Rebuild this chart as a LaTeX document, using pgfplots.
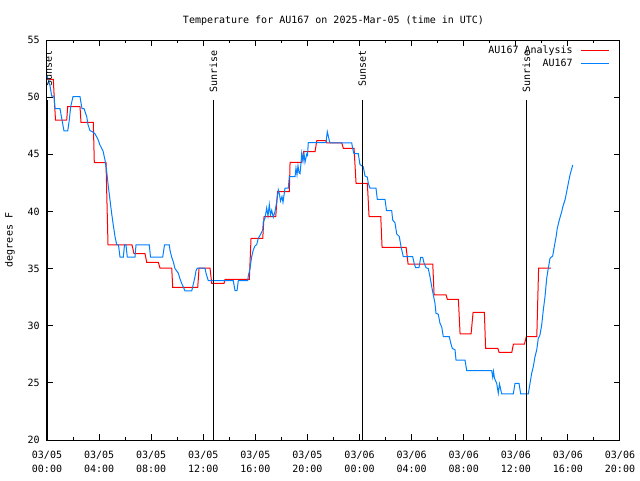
\documentclass[border=0pt]{standalone}
\usepackage{fontspec}
\setmainfont{DejaVu Sans Mono}
\usepackage{pgfplots}
\pgfplotsset{compat=1.18}
\definecolor{gpred}{RGB}{255,0,0}
\definecolor{gpblue}{RGB}{0,128,255}
\newcommand{\gpfont}{\fontsize{7.5}{10.5}\selectfont}
\begin{document}
\begin{tikzpicture}
\path[use as bounding box] (-35.25pt,-30pt) rectangle (444.75pt,330pt);
\begin{axis}[
  at={(0pt,0pt)}, anchor=south west,
  width=429.75pt, height=300pt, scale only axis,
  xmin=0, xmax=44, ymin=20, ymax=55,
  xtick={0,4,8,12,16,20,24,28,32,36,40,44},
  xticklabels={{03/05\\00:00},{03/05\\04:00},{03/05\\08:00},{03/05\\12:00},{03/05\\16:00},{03/05\\20:00},{03/06\\00:00},{03/06\\04:00},{03/06\\08:00},{03/06\\12:00},{03/06\\16:00},{03/06\\20:00}},
  minor x tick num=1,
  ytick={20,25,30,35,40,45,50,55},
  tick pos=both, tick align=inside,
  major tick length=4.5pt, minor tick length=2.25pt,
  every tick/.style={black, line width=0.75pt},
  axis line style={line width=0.75pt},
  /pgf/number format/assume math mode=true,
  tick label style={font=\gpfont},
  xticklabel style={align=center, inner sep=0pt, yshift=-7.75pt},
  yticklabel style={inner sep=0pt, xshift=-5.25pt},
  title={Temperature for AU167 on 2025-Mar-05 (time in UTC)},
  title style={font=\gpfont, at={(axis description cs:0.5,1)}, anchor=base, yshift=6.75pt, inner sep=0pt},
  ylabel={degrees F},
  ylabel style={font=\gpfont, at={(axis description cs:0,0.5)}, anchor=center, yshift=27.75pt, inner sep=0pt},
  legend plot pos=right,
  legend cell align=right,
  legend image code/.code={\draw[#1] (0pt,0pt) -- (21.2pt,0pt);},
  legend style={at={(axis description cs:1,1)}, anchor=north east, xshift=-7.5pt, yshift=-4.25pt,
    draw=none, fill=none, inner sep=0pt, font=\gpfont, column sep=5.8pt, row sep=2.75pt,
    nodes={inner sep=0pt, text height=5.5pt, text depth=1.5pt}},
]
\addplot[gpred, line width=0.75pt] coordinates {
(0,51.56)(0.484,51.56)(0.576,49.5)(0.653,48.0)(1.513,48.0)(1.590,49.16)(2.535,49.16)(2.611,47.8)(3.556,47.8)(3.633,44.26)(4.531,44.26)(4.685,37.07)(6.528,37.07)(6.682,36.3)(7.527,36.3)(7.657,35.55)(8.548,35.55)(8.679,35.03)(9.578,35.03)(9.654,33.36)(11.575,33.36)(11.674,35.03)(12.519,35.03)(12.650,33.7)(13.594,33.7)(13.671,34.06)(15.538,34.06)(15.668,37.65)(16.567,37.65)(16.667,39.54)(17.565,39.54)(17.704,41.73)(18.610,41.73)(18.664,44.3)(19.562,44.3)(19.700,45.23)(20.584,45.23)(20.715,46.19)(21.429,46.19)(21.482,46.0)(22.634,46.0)(22.757,45.52)(23.579,45.52)(23.733,42.46)(24.601,42.46)(24.731,39.54)(25.630,39.54)(25.730,36.86)(27.573,36.86)(27.727,35.4)(29.624,35.4)(29.724,32.69)(30.645,32.69)(30.745,32.31)(31.590,32.31)(31.720,29.28)(32.565,29.28)(32.719,31.17)(33.587,31.17)(33.679,28.02)(34.616,28.02)(34.716,27.67)(35.691,27.67)(35.814,28.38)(36.659,28.38)(36.805,29.04)(37.611,29.04)(37.750,35.03)(38.687,35.03)
};
\addlegendentry{AU167 Analysis}
\addplot[gpblue, line width=0.75pt] coordinates {
(0,51.9)(0.230,51.0)(0.361,50.1)(0.538,50.1)(0.614,49.0)(0.998,49.0)(1.152,48.0)(1.305,47.04)(1.590,47.04)(1.712,48.0)(1.820,49.16)(1.997,50.05)(2.534,50.05)(2.611,49.5)(2.688,49.0)(2.841,49.0)(3.049,48.3)(3.148,47.6)(3.302,47.07)(3.456,47.0)(3.686,46.8)(3.916,46.3)(4.070,45.8)(4.300,45.3)(4.454,44.5)(4.584,43.5)(4.707,42.2)(4.838,41.0)(4.968,39.8)(5.091,38.8)(5.222,37.8)(5.352,37.1)(5.398,37.07)(5.490,37.07)(5.606,36.0)(5.859,36.0)(5.951,37.07)(6.066,37.07)(6.166,36.0)(6.757,36.0)(6.834,37.07)(7.856,37.07)(7.948,36.0)(8.884,36.0)(9.023,37.07)(9.391,37.07)(9.445,36.6)(9.575,36.0)(9.698,35.6)(9.829,35.0)(10.082,34.6)(10.213,34.1)(10.343,33.7)(10.466,33.4)(10.597,33.04)(11.111,33.04)(11.188,33.4)(11.288,33.9)(11.365,34.3)(11.442,34.8)(11.541,35.03)(12.133,35.03)(12.209,34.6)(12.386,33.94)(14.306,33.94)(14.436,33.07)(14.590,33.07)(14.690,33.94)(15.412,33.94)(15.458,34.35)(15.588,35.0)(15.719,36.04)(15.842,36.63)(15.972,36.98)(16.103,37.1)(16.226,37.65)(16.356,37.9)(16.564,38.38)(16.610,39.1)(16.740,39.4)(16.871,40.3)(16.970,39.6)(17.070,40.6)(17.162,39.7)(17.255,40.1)(17.377,39.5)(17.508,39.98)(17.639,40.85)(17.761,41.88)(17.853,41.5)(17.930,40.9)(18.045,41.3)(18.122,40.8)(18.276,42.03)(18.529,42.03)(18.606,43.04)(19.044,43.04)(19.120,43.8)(19.197,43.2)(19.274,44.0)(19.351,43.4)(19.428,43.3)(19.504,44.21)(19.558,45.08)(19.658,44.4)(19.735,45.1)(19.812,44.3)(19.942,45.0)(20.004,44.9)(20.065,46.02)(21.424,46.02)(21.524,46.98)(21.601,46.6)(21.677,46.2)(21.731,46.0)(23.397,46.0)(23.474,45.5)(23.574,45.05)(23.904,45.05)(24.035,44.1)(24.288,43.9)(24.419,43.1)(24.595,43.0)(24.672,42.46)(24.803,42.03)(25.264,42.03)(25.364,41.06)(25.955,41.06)(26.070,40.07)(26.469,40.07)(26.546,39.25)(26.723,39.0)(26.853,38.03)(27.053,37.8)(27.183,36.92)(27.360,36.04)(28.081,36.04)(28.204,35.4)(28.312,35.08)(28.565,35.08)(28.696,35.99)(28.849,35.99)(28.949,35.5)(29.103,35.08)(29.279,35.0)(29.410,34.29)(29.541,33.42)(29.664,32.69)(29.794,31.96)(29.871,31.09)(30.048,31.0)(30.178,30.21)(30.309,29.9)(30.432,29.04)(30.893,29.04)(31.000,28.5)(31.123,28.02)(31.330,27.9)(31.407,27.0)(32.098,27.0)(32.229,26.07)(34.148,26.07)(34.225,25.5)(34.286,26.0)(34.363,25.4)(34.532,24.96)(34.655,24.09)(34.747,24.9)(34.916,24.03)(35.807,24.03)(35.937,24.96)(36.245,24.96)(36.375,24.03)(36.959,24.03)(37.089,24.96)(37.220,25.84)(37.343,26.42)(37.473,27.29)(37.604,27.88)(37.727,28.9)(37.857,29.2)(37.988,30.07)(38.111,31.38)(38.241,32.54)(38.372,34.15)(38.495,35.03)(38.625,35.9)(38.832,36.1)(38.932,36.78)(39.086,37.74)(39.186,38.53)(39.339,39.25)(39.523,39.98)(39.646,40.56)(39.777,41.0)(39.907,41.73)(40.030,42.46)(40.161,43.19)(40.368,44.06)
};
\addlegendentry{AU167}
\draw[black, line width=0.75pt] (axis cs:0.04,20) -- (axis cs:0.04,49.75);
\draw[black, line width=0.75pt] (axis cs:12.77,20) -- (axis cs:12.77,49.75);
\draw[black, line width=0.75pt] (axis cs:24.21,20) -- (axis cs:24.21,49.75);
\draw[black, line width=0.75pt] (axis cs:36.81,20) -- (axis cs:36.81,49.75);
\node[rotate=90, anchor=east, font=\gpfont, inner sep=0pt] at (axis cs:0.1,54.1) {Sunset};
\node[rotate=90, anchor=east, font=\gpfont, inner sep=0pt] at (axis cs:12.77,54.1) {Sunrise};
\node[rotate=90, anchor=east, font=\gpfont, inner sep=0pt] at (axis cs:24.21,54.1) {Sunset};
\node[rotate=90, anchor=east, font=\gpfont, inner sep=0pt] at (axis cs:36.81,54.1) {Sunrise};
\end{axis}
\end{tikzpicture}
\end{document}
